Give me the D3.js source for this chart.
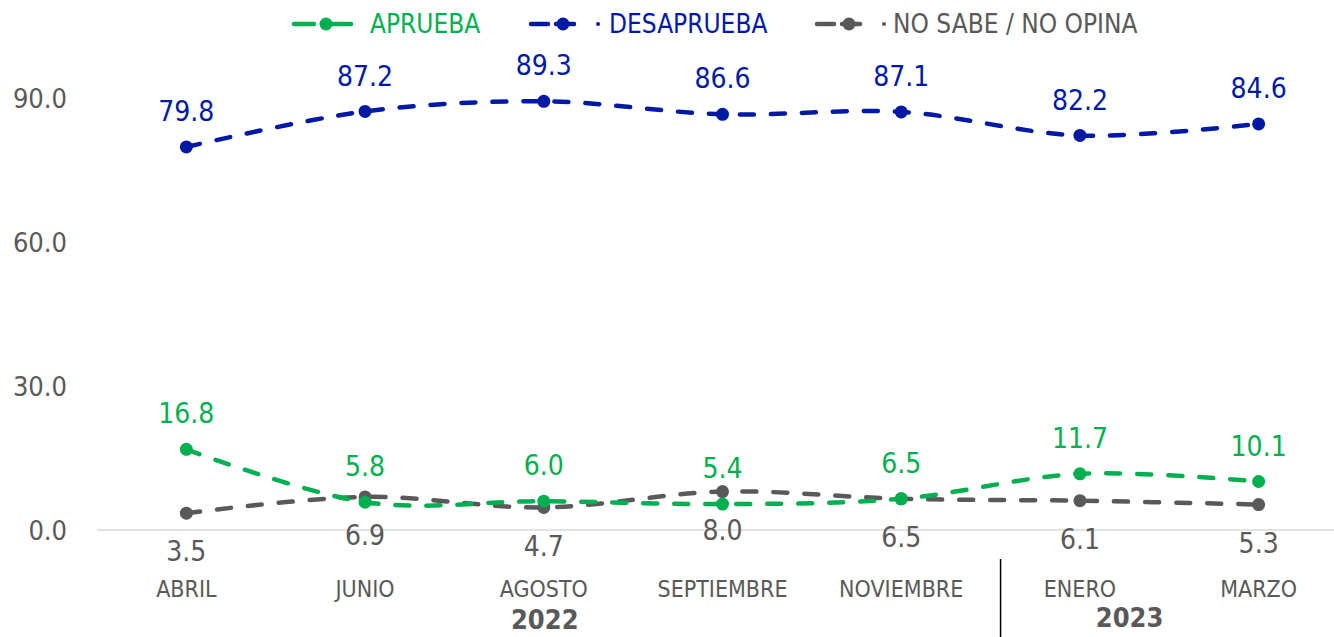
<!DOCTYPE html>
<html>
<head>
<meta charset="utf-8">
<script src="https://cdn.jsdelivr.net/npm/d3@7"></script>
<style>
  body { margin: 0; background: #fff; }
  svg { display: block; font-family: "DejaVu Sans Condensed", "DejaVu Sans", sans-serif; font-stretch: condensed; }
</style>
</head>
<body>
<div id="chart"></div>
<script>
// Data
const months = ["ABRIL", "JUNIO", "AGOSTO", "SEPTIEMBRE", "NOVIEMBRE", "ENERO", "MARZO"];
const years = [{ label: "2022", from: 0, to: 4 }, { label: "2023", from: 5, to: 6 }];
const aprueba = [16.8, 5.8, 6.0, 5.4, 6.5, 11.7, 10.1];
const desaprueba = [79.8, 87.2, 89.3, 86.6, 87.1, 82.2, 84.6];
const noSabe = [3.5, 6.9, 4.7, 8.0, 6.5, 6.1, 5.3];
const yTicks = [0, 30, 60, 90];

const width = 1334;
const height = 637;

const series = [
  { name: "APRUEBA", values: aprueba, color: "#00B050", labelPos: "above" },
  { name: "DESAPRUEBA", values: desaprueba, color: "#0019A5", labelPos: "above" },
  { name: "NO SABE / NO OPINA", values: noSabe, color: "#595959", labelPos: "below" }
];

const x = d3.scaleBand().domain(months).range([97, 1348]);
const y = d3.scaleLinear().domain([0, 90]).range([530, 98]);
const cx = m => x(m) + x.bandwidth() / 2;

const svg = d3.select("#chart").append("svg")
  .attr("width", width)
  .attr("height", height);

// y labels (no gridlines)
svg.append("g")
  .selectAll("text")
  .data(yTicks)
  .join("text")
  .attr("x", 67)
  .attr("y", d => y(d))
  .attr("dy", "0.36em")
  .attr("text-anchor", "end")
  .attr("fill", "#595959")
  .attr("font-size", "27px")
  .text(d => d.toFixed(1));

// x axis line
svg.append("line")
  .attr("x1", x.range()[0]).attr("x2", width)
  .attr("y1", y(0)).attr("y2", y(0))
  .attr("stroke", "#D9D9D9")
  .attr("stroke-width", 1.5);

// month labels
svg.append("g")
  .selectAll("text")
  .data(months)
  .join("text")
  .attr("x", d => cx(d))
  .attr("y", 597)
  .attr("text-anchor", "middle")
  .attr("fill", "#595959")
  .attr("font-size", "23px")
  .text(d => d);

// year separator + year labels
const sepX = x(months[5]) + 10;
svg.append("line")
  .attr("x1", sepX).attr("x2", sepX)
  .attr("y1", 559).attr("y2", height)
  .attr("stroke", "#000")
  .attr("stroke-width", 1.5);

svg.append("g")
  .selectAll("text")
  .data(years)
  .join("text")
  .attr("x", (d, i) => i === 0 ? (x.range()[0] + sepX) / 2 - 4 : (sepX + cx(months[d.to])) / 2)
  .attr("y", (d, i) => i === 0 ? 629 : 627)
  .attr("text-anchor", "middle")
  .attr("fill", "#595959")
  .attr("font-weight", "bold")
  .attr("font-size", "27px")
  .text(d => d.label);

const line = d3.line()
  .x((d, i) => cx(months[i]))
  .y(d => y(d))
  .curve(d3.curveCatmullRom.alpha(0));

// draw series in the order that gives green over grey where they cross
const drawOrder = [series[1], series[2], series[0]];
drawOrder.forEach(s => {
  const g = svg.append("g");
  g.append("path")
    .attr("d", line(s.values))
    .attr("fill", "none")
    .attr("stroke", s.color)
    .attr("stroke-width", 4.5)
    .attr("stroke-linecap", "round")
    .attr("stroke-dasharray", "14,17");
  g.selectAll("circle")
    .data(s.values)
    .join("circle")
    .attr("cx", (d, i) => cx(months[i]))
    .attr("cy", d => y(d))
    .attr("r", 6.5)
    .attr("fill", s.color);
});

// data labels
series.forEach(s => {
  svg.append("g")
    .selectAll("text")
    .data(s.values)
    .join("text")
    .attr("x", (d, i) => cx(months[i]))
    .attr("y", d => y(d) + (s.labelPos === "above" ? -36 : 38))
    .attr("dy", "0.36em")
    .attr("text-anchor", "middle")
    .attr("fill", s.color)
    .attr("font-size", "28px")
    .text(d => d.toFixed(1));
});

// legend
const legendItems = [
  { s: series[0], x0: 294, dash: "20,9,30", tick: false, tx: 370 },
  { s: series[1], x0: 531, dash: "17,8,18", tick: true, tx: 609 },
  { s: series[2], x0: 817, dash: "17,8,18", tick: true, tx: 893 }
];
const legend = svg.append("g");
legendItems.forEach(it => {
  const g = legend.append("g");
  g.append("line")
    .attr("x1", it.x0).attr("x2", it.x0 + 57)
    .attr("y1", 24).attr("y2", 24)
    .attr("stroke", it.s.color)
    .attr("stroke-width", 4.5)
    .attr("stroke-linecap", "round")
    .attr("stroke-dasharray", it.dash);
  g.append("circle")
    .attr("cx", it.x0 + 32).attr("cy", 24).attr("r", 6.5)
    .attr("fill", it.s.color);
  if (it.tick) {
    g.append("circle")
      .attr("cx", it.x0 + 67).attr("cy", 24).attr("r", 2)
      .attr("fill", it.s.color);
  }
  g.append("text")
    .attr("x", it.tx).attr("y", 24)
    .attr("dy", "0.36em")
    .attr("fill", it.s.color)
    .attr("font-size", "26px")
    .text(it.s.name);
});
</script>
</body>
</html>
